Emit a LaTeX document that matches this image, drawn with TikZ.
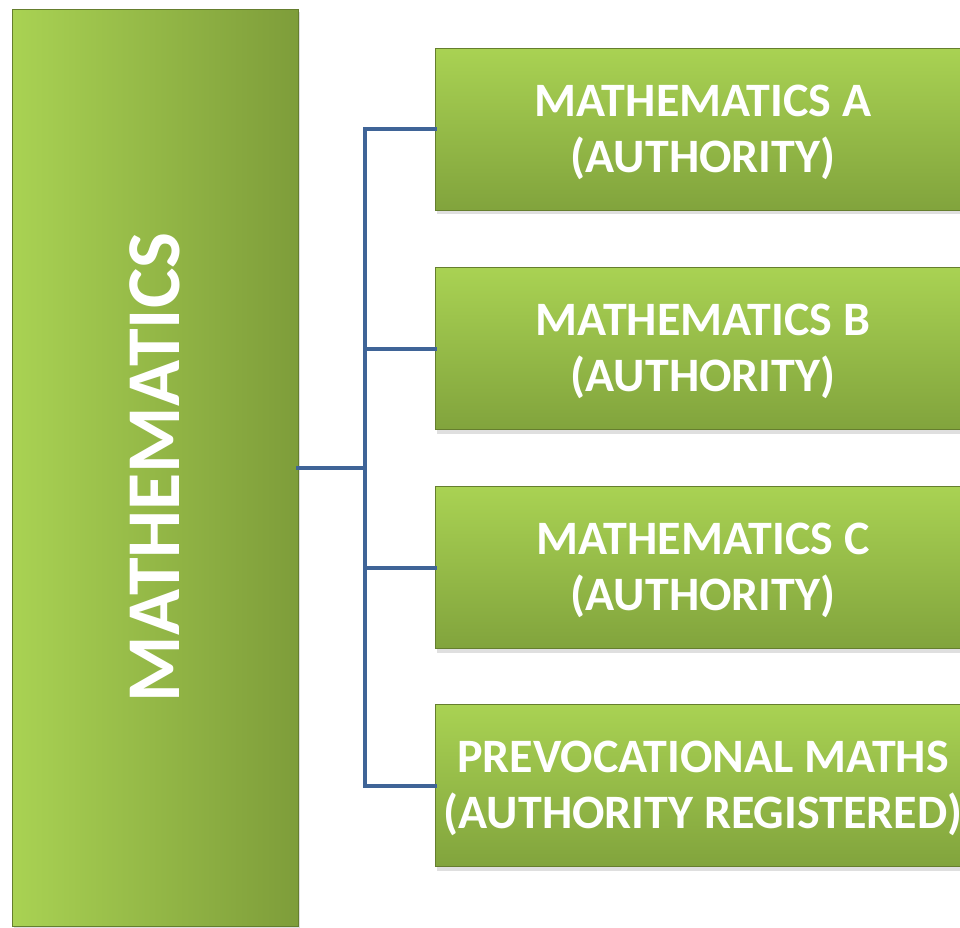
\documentclass[tikz,border=0pt]{standalone}
\usepackage{fontspec}
\setmainfont{Carlito}
\usetikzlibrary{shadows}
\definecolor{glight}{HTML}{A9D253}
\definecolor{gdark}{HTML}{7E9D3A}
\definecolor{gmid}{HTML}{93BA45}
\definecolor{conncol}{HTML}{3F6497}
\tikzset{
  subbox/.style={rectangle, minimum width=536pt, minimum height=162pt,
    top color=glight, bottom color=gmid!88!black, draw=gdark!80!black, line width=0.6pt,
    drop shadow={shadow xshift=2pt, shadow yshift=-4pt, opacity=0.25}, inner sep=0pt},
  subtext/.style={text=white, font=\bfseries\fontsize{48}{56}\selectfont, align=center, inner sep=0pt},
  mainbox/.style={rectangle, minimum width=286pt, minimum height=917pt,
    left color=glight, right color=gdark, draw=gdark!80!black, line width=0.6pt,
    drop shadow={shadow xshift=2pt, shadow yshift=-3pt, opacity=0.25},
    text=white, font=\bfseries\fontsize{76}{86}\selectfont, inner sep=0pt},
  conn/.style={draw=conncol, line width=4pt, line cap=rect, line join=miter}
}
\begin{document}
\begin{tikzpicture}[x=1pt,y=-1pt]
\useasboundingbox (0,0) rectangle (960,927);
\node[mainbox] (main) at (155,467.5) {\rotatebox{90}{MATHEMATICS}};
\node[subbox] (m1) at (703,129) {};
\node[subbox] (m2) at (703,348.5) {};
\node[subbox] (m3) at (703,567.5) {};
\node[subbox] (m4) at (703,785.5) {};
\node[subtext] (t1) at ([yshift=-3pt]m1.center) {MATHEMATICS A\\(AUTHORITY)};
\node[subtext] (t2) at ([yshift=-3pt]m2.center) {MATHEMATICS B\\(AUTHORITY)};
\node[subtext] (t3) at ([yshift=-3pt]m3.center) {MATHEMATICS C\\(AUTHORITY)};
\node[subtext] (t4) at ([yshift=-3pt]m4.center) {PREVOCATIONAL MATHS\\(AUTHORITY REGISTERED)};
\coordinate (j) at (365,467.5);
\draw[conn] (main.east) -- (j);
\draw[conn] (m1.west) -- (m1.west -| j) -- (m4.west -| j) -- (m4.west);
\draw[conn] (m2.west -| j) -- (m2.west);
\draw[conn] (m3.west -| j) -- (m3.west);
\end{tikzpicture}
\end{document}
